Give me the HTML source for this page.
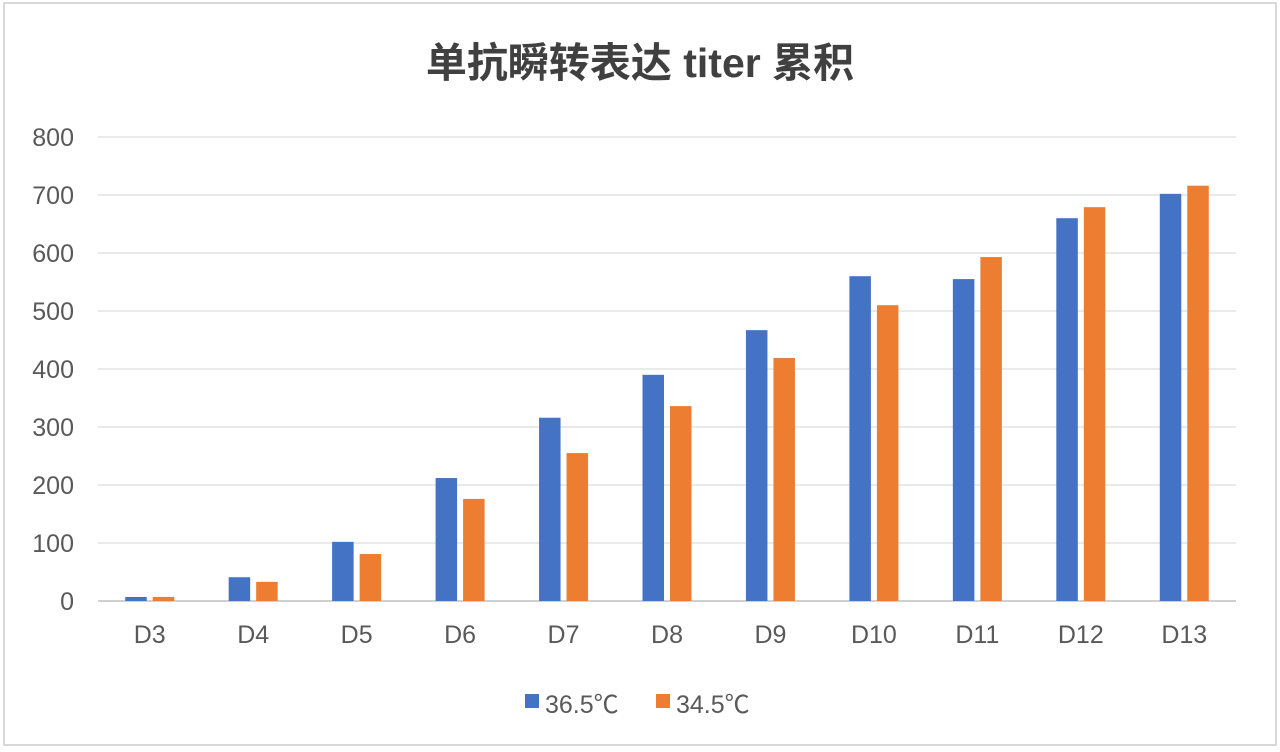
<!DOCTYPE html>
<html><head><meta charset="utf-8"><style>
body{margin:0;background:#fff;}
svg{display:block;font-family:"Liberation Sans","Noto Sans CJK SC",sans-serif;}
</style></head><body>
<svg id="chart" width="1280" height="752">
<rect x="4" y="3" width="1272" height="742" fill="#fff" stroke="#d9d9d9" stroke-width="2"/>
<text x="640" y="77" text-anchor="middle" font-size="41" font-weight="bold" fill="#404040">单抗瞬转表达 titer 累积</text>
<g id="grid"></g><g id="bars"></g><g id="labels"></g>
<g>
<rect x="525" y="694" width="14" height="14" fill="#4472c4"/>
<text x="545" y="713" font-size="25" fill="#595959">36.5℃</text>
<rect x="656" y="694" width="14" height="14" fill="#ed7d31"/>
<text x="676" y="713" font-size="25" fill="#595959">34.5℃</text>
</g>
</svg>
<script>
const categories=["D3","D4","D5","D6","D7","D8","D9","D10","D11","D12","D13"];
const series365=[7,41,102,212,316,390,467,560,555,660,702];
const series345=[7,33,81,176,255,336,419,510,593,679,716];
const yTicks=[0,100,200,300,400,500,600,700,800];
const ns="http://www.w3.org/2000/svg";
const x0=98,x1=1236,y0=601,y1=137,yMax=800;
const step=(x1-x0)/categories.length;
const y=v=>y0-(v/yMax)*(y0-y1);
const xc=i=>x0+step*(i+0.5);
function mk(t,a,p){const e=document.createElementNS(ns,t);for(const k in a)e.setAttribute(k,a[k]);document.getElementById(p).appendChild(e);return e;}
yTicks.forEach(v=>{
 const l=mk("line",{x1:x0,x2:x1,y1:y(v),y2:y(v),stroke:v===0?"#d0d0d0":"#e4e4e4","stroke-width":v===0?2:1.5},"grid");
 
 
 const t=mk("text",{x:74,y:y(v)+9,"text-anchor":"end","font-size":25,fill:"#595959"},"labels");
 t.textContent=v;
 
 
});
const bw=21.5,gap=6;
categories.forEach((c,i)=>{
 const cx=xc(i);
 const b1=mk("rect",{x:cx-gap/2-bw,y:y(series365[i]),width:bw,height:y0-y(series365[i]),fill:"#4472c4"},"bars");
 
 
 const b2=mk("rect",{x:cx+gap/2,y:y(series345[i]),width:bw,height:y0-y(series345[i]),fill:"#ed7d31"},"bars");
 
 
 const t=mk("text",{x:cx,y:643,"text-anchor":"middle","font-size":25,fill:"#595959"},"labels");
 t.textContent=c;
 
 
});
</script>
</body></html>
